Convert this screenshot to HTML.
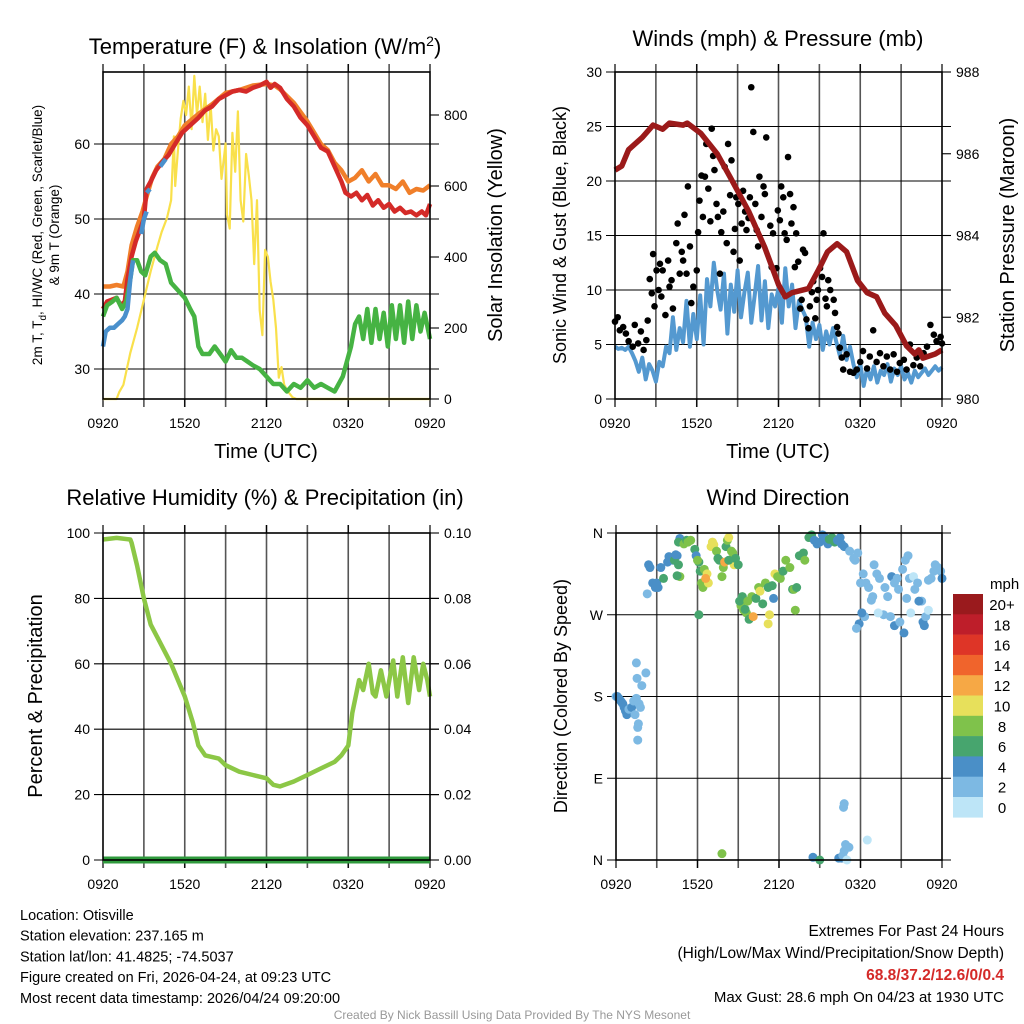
<!DOCTYPE html>
<html><head><meta charset="utf-8"><style>
html,body{margin:0;padding:0;background:#fff;}
svg{display:block;font-family:"Liberation Sans",Arial,sans-serif;}
</style></head><body>
<svg id="c" width="1024" height="1024" viewBox="0 0 1024 1024"></svg>
<script>
// ---------- DATA ----------
const timeTickHours = [0,6,12,18,24];
const timeTickLabels = ["0920","1520","2120","0320","0920"];
// Panel 1: temperature (F) & insolation
const tempTicks = [30,40,50,60];
const insolTicks = [0,200,400,600,800];
const redT = [0,0.3,0.6,1,1.3,1.6,1.8,2.1,2.4,2.7,3,3.2,3.5,3.9,4.3,4.8,5.3,5.8,6.4,7,7.5,8,8.5,9,9.5,10,10.5,11,11.5,12,12.3,12.6,13,13.5,14,14.5,15,15.5,16,16.5,17,17.5,17.8,18.2,18.6,19,19.4,19.8,20.2,20.6,21,21.4,21.8,22.2,22.6,23,23.4,23.7,24];
const redV = [38,39,39.2,39.5,38.5,39,42,45,47,48.5,50,54,55,56.5,57.5,58.5,60,61.5,62.5,63.5,64.5,65,66,66.5,67,67.2,67,67.5,67.8,68.3,67.5,68,67.5,66,65,63.5,62.5,61,59.5,59,57,55,53.5,53,53.5,52.5,53.2,51.8,52.5,51.5,52,51,51.5,50.8,51,50.5,51,50.5,52];
const orangeT = [0,0.5,1,1.5,1.8,2.1,2.5,2.9,3.2,3.6,4,4.5,5,5.5,6,7,8,9,10,11,12,12.6,13,14,15,16,16.5,17,17.5,18,18.5,19,19.5,20,20.5,21,21.5,22,22.5,23,23.5,24];
const orangeV = [41,41,41.2,41,43,46.5,49,51,53,55.5,57,58,60,61,62.5,64,65.3,66.8,67.2,67.8,68,67.8,67.3,65.5,63,60,59.2,57.5,56.5,55,55.5,56.5,55,56,54.5,54.5,54,55,53.5,54,53.8,54.5];
const greenT = [0,0.3,0.7,1,1.4,1.7,2,2.2,2.5,2.8,3.1,3.5,3.8,4.2,4.6,5,5.5,6,6.4,6.7,7,7.3,7.8,8.2,8.6,9,9.4,9.8,10.2,10.6,11,11.5,12,12.5,13,13.5,14,14.5,15,15.5,16,16.5,17,17.3,17.6,17.9,18.2,18.5,18.8,19.1,19.4,19.7,20,20.3,20.6,20.9,21.2,21.5,21.8,22.1,22.4,22.7,23,23.3,23.6,24];
const greenV = [37,38.5,39,39.5,38,39,42,44.5,44.5,43,42.5,45,45.5,44.5,44,41.5,40.5,39.5,38,37,33,32,32,33,32,31,32.5,31.5,31.5,31,30.5,30,29,28,28,27,28,27.5,28.5,27.5,28,27.5,27,28,29,31,33,36,37,34,38,33.5,38,34,37.5,33,38.5,34,38.5,33.5,39,34,38.5,35,37.5,34];
const blueAT = [0,0.2,0.5,0.8,1.1,1.4,1.6,1.8,2.0,2.2];
const blueAV = [33,35,35.5,35.5,36,36.5,37,38,42,44.5];
const blueBT = [2.8,3.0,3.2];
const blueBV = [48,50,51];
const blueCT = [3.2,3.45];
const blueCV = [53.5,54];
const blueDT = [4.2,4.6];
const blueDV = [57,58];
const yelT = [0,1,1.2,1.5,2,2.5,3,3.5,4,4.3,4.7,5,5.2,5.3,5.5,5.7,5.9,6.1,6.3,6.5,6.7,6.9,7.1,7.3,7.5,7.7,7.9,8.1,8.3,8.5,8.7,9,9.1,9.3,9.5,9.7,9.9,10.1,10.3,10.5,10.7,10.9,11.1,11.3,11.5,11.7,11.9,12.1,12.3,12.5,12.7,12.9,13.1,13.3,13.6,13.9,14.2,24];
const yelV = [0,0,20,40,130,200,280,360,430,470,510,560,740,600,700,790,840,800,880,760,910,800,880,780,860,730,830,700,760,740,620,720,520,480,750,640,810,560,500,690,630,560,380,560,250,180,420,400,330,280,200,60,90,40,20,5,0,0];
// Panel 2: winds & pressure
const windTicks = [0,5,10,15,20,25,30];
const presTicks = [980,982,984,986,988];
const windStep = 0.25;
const windV = [4.8,4.6,4.7,4.5,4.8,4.2,3.5,2.5,3.8,
1.8,3.2,2.6,1.6,3.4,3.0,4.8,4.2,
7.5,4.5,6.5,5.2,9.0,4.8,7.8,5.5,
9.5,5.0,11.0,8.5,12.5,10.0,8.2,11.5,
6.0,10.5,8.0,11.8,7.5,9.8,11.6,7.0,
9.5,12.2,7.2,10.8,6.5,9.6,8.5,10.2,
7.0,12.0,8.5,10.5,6.5,9.0,8.2,7.5,
4.8,7.0,5.5,6.8,4.5,6.2,5.0,6.5,
5.2,4.0,5.8,3.6,4.8,3.2,2.0,3.2,
1.2,2.8,1.8,3.0,1.5,2.6,2.2,3.2,
1.6,2.8,2.2,3.0,1.8,2.4,1.5,2.6,
2.0,2.4,2.8,2.2,2.6,3.0,2.6,2.9];
const gustT = [0,0.2,0.35,0.6,0.8,1,1.3,1.45,1.7,1.9,2.1,2.3,2.4,2.55,2.7,2.8,2.9,3.05,3.2,3.3,3.4,3.5,3.7,3.9,4.0,4.15,4.25,4.5,4.6,4.75,4.9,5.0,5.1,5.25,5.35,5.5,5.6,5.75,6,6.1,6.2,6.35,6.45,6.6,6.7,6.85,7.0,7.1,7.2,7.3,7.45,7.55,7.7,7.8,7.95,8.05,8.2,8.3,8.45,8.55,8.7,8.8,8.9,9.05,9.15,9.3,9.4,9.55,9.65,9.8,9.9,10.0,10.15,10.3,10.4,10.5,10.6,10.75,10.9,11,11.1,11.4,11.5,11.6,11.85,11.95,12.1,12.2,12.35,12.45,12.6,12.7,12.85,12.95,13.1,13.2,13.3,13.45,13.6,13.7,13.8,13.95,14.05,14.2,14.3,14.45,14.55,14.7,14.8,14.9,15.05,15.2,15.3,15.45,15.55,15.65,15.8,16.05,16.15,16.3,16.4,16.5,16.65,16.75,17,17.25,17.5,17.75,18,18.2,18.5,18.7,18.95,19.2,19.45,19.7,19.95,20.2,20.45,20.7,20.9,21.2,21.4,21.65,21.9,22.15,22.4,22.65,22.9,23.15,23.4,23.6,23.9,24];
const gustV = [7.1,7.5,6.3,6.6,6,5.3,4.8,6.8,5.1,6.2,4.5,5.4,7.2,11,9.7,13.3,8.5,11.8,10,12.4,9.4,11.8,7.7,12.7,10.3,10.9,8.3,14.3,16.1,11.5,13.5,12.7,16.9,11.5,19.5,14,8.8,10.3,11.8,15.3,18.2,20.5,16.7,20.4,23.4,19.3,16.3,24.8,22.3,21,17.9,16.7,11.5,15.3,17.2,21.3,14.3,23.4,18.7,21.9,13.5,15.6,18.5,17.9,12.7,16.1,19.1,17.2,15.5,16.6,18.5,28.6,24.5,17.9,15.5,14,20.4,16.7,19.5,18.8,24,15.9,12.1,15.2,12,17.3,16.4,19.5,18.5,15.2,14.6,22.2,18.8,16.1,17.6,12.1,15.2,12.6,8.3,9.1,13.7,13.4,7.3,6.5,8.5,9.8,10.8,7.4,9.1,10,12,11.2,15.2,9.2,8.5,10.9,10,9.1,7.9,6.6,6,4.7,3.8,2.7,4.1,2.5,2.4,2.7,3.4,4.4,2.8,3.9,6.3,3.4,4.2,3,3.9,2.7,4.1,2.5,3.3,3.6,2.7,5,3.1,3.8,3,4.2,4.8,6.8,5.9,5.3,5.7,5.1];
const presT = [0,0.5,1,2,2.8,3.5,4,5,5.3,6.3,7.5,8.5,9.8,11,12,12.5,13,14.2,15,15.6,16.3,17,17.8,18.5,19.2,19.8,20.6,21.4,22,22.3,22.6,23.5,24];
const presV = [985.6,985.7,986.1,986.4,986.7,986.6,986.75,986.7,986.75,986.5,986.0,985.4,984.6,983.7,982.8,982.5,982.6,982.7,983.2,983.6,983.8,983.6,982.9,982.6,982.5,982.1,981.8,981.3,981.1,981.2,981.0,981.1,981.2];
// Panel 3: RH
const rhTicks = [0,20,40,60,80,100];
const precipTicks = ["0.00","0.02","0.04","0.06","0.08","0.10"];
const rhT = [0,1,2,2.1,2.5,3,3.5,4,5,6,6.6,7,7.5,8.5,9,10,11,12,12.5,13,14,15,16,17,17.5,18,18.3,18.8,19.1,19.5,19.8,20,20.4,20.8,21.1,21.3,21.6,22,22.4,22.8,23.2,23.5,23.8,24];
const rhV = [98,98.5,98,97,90,80,72,68,60,50,42,35,32,31,29,27,26,25,23,22.5,24,26,28,30,32,35,45,55,52,60,51,50,58,50,57,61,50,62,48,62,52,60,55,50];
const precipV = [0,0];
const precipT = [0,24];
// Panel 4: wind direction dots
const dirLabels = ["N","E","S","W","N"];
const dirTicks = [0,90,180,270,360];
const dirT = [0,0.1,0.2,0.3,0.4,0.5,0.6,0.7,0.8,0.95,1.15,1.3,1.4,1.5,1.6,1.7,1.55,1.65,1.8,1.9,1.6,1.5,2.2,
2.4,2.5,2.7,2.9,3.0,3.1,2.3,3.5,3.3,3.9,3.8,4.2,4.5,4.3,4.6,4.7,4.5,4.4,
4.7,4.6,5.0,5.2,5.3,5.5,5.8,5.9,6.1,6.0,6.2,6.3,6.4,6.5,6.1,6.7,6.8,6.6,7.0,7.1,7.2,7.4,7.5,7.6,7.8,7.9,8.0,8.1,8.2,8.3,8.5,8.6,8.7,8.8,9.0,8.3,
9.2,9.3,9.1,9.4,9.6,9.5,9.8,10.1,9.7,10.0,10.3,10.5,10.6,10.8,11.0,11.2,11.5,11.7,11.9,11.3,11.2,11.6,12.1,12.3,12.5,12.8,13.0,13.1,13.3,13.5,13.8,13.9,13.2,
14.2,14.4,14.6,14.8,15.0,15.2,15.4,15.6,15.7,15.9,16.1,16.3,16.5,16.6,16.8,
17.2,17.6,17.8,17.5,18.2,18.0,18.4,18.6,18.3,18.8,18.9,17.9,17.7,18.1,19.0,19.2,19.4,19.8,20.0,20.3,20.5,20.7,20.8,21.1,21.3,21.5,21.6,21.4,21.9,22.0,22.2,22.5,22.3,22.6,22.7,22.8,23.0,23.2,23.4,23.5,23.7,23.9,24,19.7,20.2,20.5,20.9,21.2,21.7,19.3,23.0,
7.8,14.5,15.0,16.4,16.6,16.7,16.8,16.9,16.75,16.8,18.5,17.0,17.15];
const dirV = [180,180,178,176,174,172,168,164,160,166,168,175,160,178,146,172,200,150,168,192,132,217,206,
325,322,305,300,305,300,293,310,322,334,328,330,335,330,325,312,313,336,
354,350,348,352,350,352,342,335,328,330,318,305,300,320,270,315,305,310,345,350,347,340,332,330,312,322,328,345,352,355,340,338,325,332,325,330,
280,290,285,275,272,276,265,268,285,290,288,300,296,282,305,300,302,315,312,270,260,288,310,318,330,322,298,298,300,335,338,330,275,
355,358,352,348,350,358,355,348,353,355,350,352,355,348,345,
340,330,338,332,315,305,305,300,268,286,290,260,255,272,325,315,310,300,290,312,305,310,298,320,330,335,310,288,312,298,305,285,285,262,258,268,308,310,318,325,322,318,310,270,268,258,262,250,272,272,275,
7,3,0,2,2,5,10,17,58,62,22,0,14];
const dirSpd = [3,4,4,4,4,4,4,4,4,3,4,2,3,2,2,3,2,3,2,3,2,2,2,
4,4,4,4,4,4,2,6,4,4,4,4,4,6,6,8,6,4,
4,6,8,6,8,8,6,4,6,8,6,8,8,8,6,10,10,12,10,10,10,8,6,6,8,8,12,6,8,10,8,8,10,6,6,6,
8,6,6,8,8,6,6,12,8,8,6,8,10,6,8,6,6,10,8,10,10,4,8,6,8,8,6,8,6,6,6,8,8,
6,6,4,4,4,4,4,4,6,6,6,4,4,4,4,
2,2,2,2,2,2,2,2,2,2,2,4,2,4,2,2,2,2,2,4,2,2,2,2,2,2,2,2,0,2,2,2,4,4,4,2,2,2,2,2,2,2,4,2,2,4,2,4,0,0,0,
8,4,6,4,4,2,2,2,2,2,0,0,2];
const cbLabels = ["20+","18","16","14","12","10","8","6","4","2","0"];
const cbColors = ["#9a1a1d","#be1e2a","#de3527","#f0642c","#f6a845","#e7e05b","#7fc24b","#47a56e","#4a8fc7","#7db9e3","#bde5f7"];

// ---------- DRAWING ----------
const NS="http://www.w3.org/2000/svg";
const svg=document.getElementById('c');
function el(tag,attrs,parent){const e=document.createElementNS(NS,tag);for(const k in attrs)e.setAttribute(k,attrs[k]);(parent||svg).appendChild(e);return e;}
function txt(s,x,y,size,anchor,parent,extra){const e=el('text',Object.assign({x:x,y:y,'font-size':size,'text-anchor':anchor||'middle',fill:'#000'},extra||{}),parent);e.textContent=s;return e;}
function lin(d0,d1,r0,r1){return v=>r0+(v-d0)/(d1-d0)*(r1-r0);}
function pathD(ts,vs,X,Y){return ts.map((t,i)=>(i?'L':'M')+X(t).toFixed(1)+','+Y(vs[i]).toFixed(1)).join('');}

function frame(g,x0,x1,y0,y1,X,leftTicks,Yl,leftLabels,rightTicks,Yr,rightLabels){
  for(let h=3;h<24;h+=3){const l=el('line',{x1:X(h),x2:X(h),y1:y0-8,y2:y1+8,stroke:'#555','stroke-width':1.6},g);
    }
  leftTicks.forEach((v,i)=>{const y=Yl(v);const l=el('line',{x1:x0-9,x2:x1+(rightTicks?9:9),y1:y,y2:y,stroke:'#000','stroke-width':1.1},g);
    
    const t=txt(leftLabels[i],x0-13,y+5,14,'end',g);});
  if(rightTicks){rightTicks.forEach((v,i)=>{const y=Yr(v);el('line',{x1:x1,x2:x1+9,y1:y,y2:y,stroke:'#000','stroke-width':1.1},g);
    const t=txt(rightLabels[i],x1+14,y+5,14,'start',g);});}
  timeTickHours.forEach((h,i)=>{const x=X(h);el('line',{x1:x,x2:x,y1:y1,y2:y1+8,stroke:'#000','stroke-width':1.2},g);el('line',{x1:x,x2:x,y1:y0-8,y2:y0,stroke:'#000','stroke-width':1.2},g);
    const t=txt(timeTickLabels[i],x,y1+29,14,'middle',g);});
}
function border(g,x0,x1,y0,y1){const r=el('rect',{x:x0,y:y0,width:x1-x0,height:y1-y0,fill:'none',stroke:'#000','stroke-width':1.6},g);}

// Panel 1
(function(){
  const g=el('g',{});
  const x0=103,x1=430,y0=72,y1=399;
  const X=lin(0,24,x0,x1), Y=lin(30,60,369,144), Yi=lin(0,800,399,115);
  frame(g,x0,x1,y0,y1,X,tempTicks,Y,tempTicks.map(String),insolTicks,Yi,insolTicks.map(String));
  const yl=el('path',{d:pathD(yelT,yelV,X,Yi),fill:'none',stroke:'#f9e04b','stroke-width':2.2,'stroke-linejoin':'round'},g);
  
  const o=el('path',{d:pathD(orangeT,orangeV,X,Y),fill:'none',stroke:'#f07f2a','stroke-width':4.5,'stroke-linejoin':'round'},g);
  
  const r=el('path',{d:pathD(redT,redV,X,Y),fill:'none',stroke:'#d42a28','stroke-width':4.5,'stroke-linejoin':'round'},g);
  
  const gr=el('path',{d:pathD(greenT,greenV,X,Y),fill:'none',stroke:'#46b343','stroke-width':4.5,'stroke-linejoin':'round'},g);
  
  [[blueAT,blueAV],[blueBT,blueBV],[blueCT,blueCV],[blueDT,blueDV]].forEach(s=>{
    const b=el('path',{d:pathD(s[0],s[1],X,Y),fill:'none',stroke:'#4a90cc','stroke-width':4.5,'stroke-linejoin':'round'},g);
    });
  border(g,x0,x1,y0,y1);
  const t=txt('',265,54,22,'middle',g);t.innerHTML='Temperature (F) &amp; Insolation (W/m<tspan dy="-8" font-size="14">2</tspan><tspan dy="8">)</tspan>';
  
  const xl=txt('Time (UTC)',266,458,20,'middle',g);
  const a1=txt('',42,235,13.5,'middle',g,{transform:'rotate(-90 42 235)'});a1.innerHTML='2m T, T<tspan dy="4" font-size="10">d</tspan><tspan dy="-4">, HI/WC (Red, Green, Scarlet/Blue)</tspan>';
  
  const a2=txt('&amp; 9m T (Orange)',59,235,13.5,'middle',g,{transform:'rotate(-90 59 235)'});a2.textContent='& 9m T (Orange)';
  
  const a3=txt('Solar Insolation (Yellow)',502,235,20,'middle',g,{transform:'rotate(-90 502 235)'});
  
})();

// Panel 2
(function(){
  const g=el('g',{});
  const x0=615,x1=942,y0=72,y1=399;
  const X=lin(0,24,x0,x1), Y=lin(0,30,399,72), Yp=lin(980,988,399,72);
  frame(g,x0,x1,y0,y1,X,windTicks,Y,windTicks.map(String),presTicks,Yp,presTicks.map(String));
  const wT=windV.map((v,i)=>i*windStep);
  const w=el('path',{d:pathD(wT,windV,X,Y),fill:'none',stroke:'#5499d0','stroke-width':4,'stroke-linejoin':'round'},g);
  
  gustT.forEach((t,i)=>{const c=el('circle',{cx:X(t),cy:Y(gustV[i]),r:3.3,fill:'#000'},g);
    });
  const p=el('path',{d:pathD(presT,presV,X,Yp),fill:'none',stroke:'#9b1a1a','stroke-width':5.5,'stroke-linejoin':'round'},g);
  
  border(g,x0,x1,y0,y1);
  const t=txt('Winds (mph) & Pressure (mb)',778,46,22,'middle',g);
  const xl=txt('Time (UTC)',778,458,20,'middle',g);
  const a1=txt('Sonic Wind & Gust (Blue, Black)',566,235,18,'middle',g,{transform:'rotate(-90 566 235)'});
  const a2=txt('Station Pressure (Maroon)',1014,235,20,'middle',g,{transform:'rotate(-90 1014 235)'});
})();

// Panel 3
(function(){
  const g=el('g',{});
  const x0=103,x1=430,y0=533,y1=860;
  const X=lin(0,24,x0,x1), Y=lin(0,100,860,533), Yp=lin(0,0.1,860,533);
  frame(g,x0,x1,y0,y1,X,rhTicks,Y,rhTicks.map(String),precipTicks.map(Number),Yp,precipTicks);
  const r=el('path',{d:pathD(rhT,rhV,X,Y),fill:'none',stroke:'#8cc746','stroke-width':4.5,'stroke-linejoin':'round'},g);
  
  const p=el('path',{d:pathD(precipT,precipV,X,Yp),fill:'none',stroke:'#2f9a3d','stroke-width':7},g);
  
  border(g,x0,x1,y0,y1);
  const t=txt('Relative Humidity (%) & Precipitation (in)',265,505,22,'middle',g);
  const a1=txt('Percent & Precipitation',42,696,20,'middle',g,{transform:'rotate(-90 42 696)'});
})();

// Panel 4
(function(){
  const g=el('g',{});
  const x0=616,x1=942,y0=533,y1=860;
  const X=lin(0,24,x0,x1), Y=lin(0,360,860,533);
  frame(g,x0,x1,y0,y1,X,dirTicks,Y,dirLabels,null,null,null);
  dirT.forEach((t,i)=>{const bin=Math.min(10,Math.floor(dirSpd[i]/2));
    const c=el('circle',{cx:X(t),cy:Y(dirV[i]),r:4.5,fill:cbColors[10-bin]},g);
    });
  border(g,x0,x1,y0,y1);
  const t=txt('Wind Direction',778,505,22,'middle',g);
  const a1=txt('Direction (Colored By Speed)',567,696,18,'middle',g,{transform:'rotate(-90 567 696)'});
  const cb=el('g',{},g);
  const m=txt('mph',990,589,15,'start',cb);
  cbLabels.forEach((s,i)=>{const y=594+i*20.3;
    const r=el('rect',{x:953,y:y,width:30,height:20.6,fill:cbColors[i]},cb);
    const l=txt(s,1002,y+16,15,'middle',cb);});
})();

// Footer text
(function(){
  const g=el('g',{});
  ["Location: Otisville","Station elevation: 237.165 m","Station lat/lon: 41.4825; -74.5037","Figure created on Fri, 2026-04-24, at 09:23 UTC","Most recent data timestamp: 2026/04/24 09:20:00"].forEach((s,i)=>{
    const t=txt(s,20,920+i*20.7,14.5,'start',g);});
  const h=el('g',{});
  const a=txt('Extremes For Past 24 Hours',1004,936,15.5,'end',h);
  const b=txt('(High/Low/Max Wind/Precipitation/Snow Depth)',1004,958,15.5,'end',h);
  const c=txt('68.8/37.2/12.6/0/0.4',1004,980,15.5,'end',h,{fill:'#d42a28','font-weight':'bold'});
  const d=txt('Max Gust: 28.6 mph On 04/23 at 1930 UTC',1004,1002,15,'end',h);
  const f=txt('Created By Nick Bassill Using Data Provided By The NYS Mesonet',512,1019,12,'middle',svg,{fill:'#999'});
})();
</script>
</body></html>
